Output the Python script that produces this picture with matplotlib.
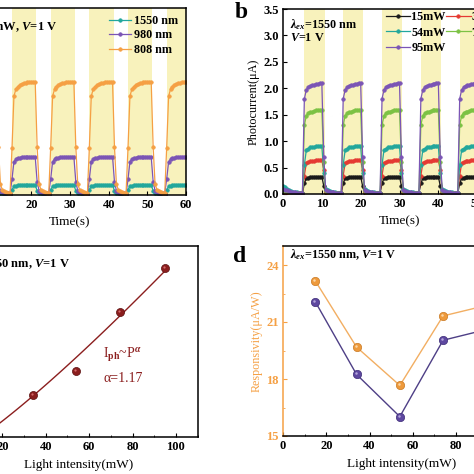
import numpy as np
import matplotlib
matplotlib.use('Agg')
import matplotlib.pyplot as plt
from matplotlib.ticker import MultipleLocator

plt.rcParams['font.family'] = 'Liberation Serif'
plt.rcParams['font.weight'] = 'bold'
plt.rcParams['mathtext.fontset'] = 'custom'
plt.rcParams['mathtext.rm'] = 'Liberation Serif:bold'
plt.rcParams['mathtext.it'] = 'Liberation Serif:italic:bold'
plt.rcParams['mathtext.bf'] = 'Liberation Serif:bold'
plt.rcParams['xtick.direction'] = 'in'
plt.rcParams['ytick.direction'] = 'in'
plt.rcParams['axes.linewidth'] = 1.1

W = H = 474.0

# ---------------- data ----------------
# (a) one 10 s period, every 0.5 s, starting at t = 2 s (light on ~5.0-11.3 s)
a_1550 = [0.04, 0.03, 0.02, 0.02, 0.02, 0.02, 0.10, 0.16, 0.17, 0.18, 0.18, 0.18,
          0.19, 0.19, 0.19, 0.19, 0.19, 0.19, 0.19, 0.08]
a_980 = [0.08, 0.05, 0.04, 0.03, 0.03, 0.02, 0.30, 0.62, 0.67, 0.69, 0.70, 0.71,
         0.71, 0.72, 0.72, 0.72, 0.72, 0.72, 0.72, 0.25]
a_808 = [0.20, 0.10, 0.07, 0.05, 0.04, 0.03, 0.88, 1.85, 1.98, 2.03, 2.06, 2.08,
         2.09, 2.10, 2.11, 2.11, 2.12, 2.12, 2.12, 0.90]
a_light = (5.0, 11.3)

# (b) values at t = 0, 0.5 s, then one 10 s period every 0.5 s from t = 1 s (light on ~5.5-10.7 s)
b_15_lead, b_15 = [0.03, 0.03], [0.02, 0.02, 0.02, 0.01, 0.01, 0.01, 0.01, 0.01, 0.01, 0.20,
                                 0.30, 0.31, 0.32, 0.32, 0.33, 0.33, 0.33, 0.33, 0.33, 0.15]
b_34_lead, b_34 = [0.04, 0.03], [0.03, 0.02, 0.02, 0.02, 0.01, 0.01, 0.01, 0.01, 0.01, 0.35,
                                 0.58, 0.61, 0.62, 0.63, 0.63, 0.64, 0.64, 0.64, 0.64, 0.45]
b_54_lead, b_54 = [0.15, 0.13], [0.10, 0.07, 0.05, 0.04, 0.03, 0.03, 0.02, 0.02, 0.02, 0.55,
                                 0.83, 0.86, 0.88, 0.89, 0.89, 0.90, 0.90, 0.91, 0.91, 0.40]
b_74_lead, b_74 = [0.06, 0.05], [0.05, 0.03, 0.02, 0.02, 0.01, 0.01, 0.01, 0.01, 0.01, 1.30,
                                 1.48, 1.53, 1.55, 1.56, 1.57, 1.58, 1.58, 1.59, 1.59, 0.60]
b_95_lead, b_95 = [0.09, 0.08], [0.08, 0.05, 0.04, 0.03, 0.03, 0.02, 0.02, 0.02, 0.02, 1.80,
                                 1.97, 2.02, 2.05, 2.06, 2.07, 2.08, 2.09, 2.10, 2.10, 0.70]
b_light = (5.5, 10.7)

# (c) photocurrent vs power
c_power = [15, 34, 54, 74, 95]
c_current = [0.33, 0.64, 0.91, 1.60, 2.10]
c_alpha = 1.17

# (d) responsivity vs power
d_power = [15, 34, 54, 74, 95]
d_orange = [23.15, 19.68, 17.66, 21.32, 21.90]
d_purple = [22.05, 18.24, 16.02, 20.04, 20.63]

# colours
teal = '#22A79C'
purple = '#7B55B5'
orange = '#F5A044'
black = '#1A1A1A'
red = '#E53A33'
green = '#7CC244'
yellow = '#F8F2BC'
darkred = '#8B1E1E'


def trace(period, t_first, lead=()):
    tt = [0.5 * i for i in range(len(lead))]
    yy = list(lead)
    for k in range(6):
        for j, v in enumerate(period):
            tt.append(t_first + 10 * k + 0.5 * j)
            yy.append(v)
    return tt, yy


def px_axes(l, t, r, b):
    return fig.add_axes([l / W, 1 - b / H, (r - l) / W, (b - t) / H])


fig = plt.figure(figsize=(4.74, 4.74), dpi=100)

# ---------------- (a) ----------------
ax = px_axes(-46, 8, 186, 195)
for k in range(6):
    ax.axvspan(a_light[0] + 10 * k, a_light[1] + 10 * k, color=yellow, lw=0, zorder=0)
handles = []
for vals, col, lab in [(a_1550, teal, '1550 nm'), (a_980, purple, '980 nm'), (a_808, orange, '808 nm')]:
    tt, yy = trace(vals, 2.0)
    h, = ax.plot(tt, yy, '-o', color=col, lw=0.9, ms=2.6, mfc=col, mec=col, mew=0.4, label=lab)
    handles.append(h)
ax.set_xlim(0, 60)
ax.set_ylim(0, 3.5)
ax.xaxis.set_major_locator(MultipleLocator(10))
ax.xaxis.set_minor_locator(MultipleLocator(5))
ax.tick_params(labelsize=9, length=3, pad=3)
ax.tick_params(which='minor', length=1.5)
ax.set_xlabel('Time(s)', fontsize=9.5, labelpad=4)
ax.legend(handles=handles, loc='upper left', bbox_to_anchor=(109 / W, 1 - 15 / H),
          bbox_transform=fig.transFigure, frameon=False, borderpad=0, borderaxespad=0,
          handlelength=1.8, handletextpad=0.3, labelspacing=0.2, fontsize=8.7)
fig.text(57 / W, 1 - 27 / H, r'P=95 mW, $V$=1 V', ha='right', va='center', fontsize=9)

# ---------------- (b) ----------------
ax = px_axes(283, 9, 516, 194)
for k in range(6):
    ax.axvspan(b_light[0] + 10 * k, b_light[1] + 10 * k, color=yellow, lw=0, zorder=0)
hb = {}
for lead, vals, col, lab in [(b_15_lead, b_15, black, '15mW'), (b_34_lead, b_34, red, '34mW'),
                             (b_54_lead, b_54, teal, '54mW'), (b_74_lead, b_74, green, '74mW'),
                             (b_95_lead, b_95, purple, '95mW')]:
    tt, yy = trace(vals, 1.0, lead)
    h, = ax.plot(tt, yy, '-o', color=col, lw=0.9, ms=2.6, mfc=col, mec=col, mew=0.4, label=lab)
    hb[lab] = h
ax.set_xlim(0, 60)
ax.set_ylim(0, 3.5)
ax.xaxis.set_major_locator(MultipleLocator(10))
ax.xaxis.set_minor_locator(MultipleLocator(5))
ax.yaxis.set_major_locator(MultipleLocator(0.5))
ax.yaxis.set_major_formatter('{x:.1f}')
ax.tick_params(labelsize=9, length=3, pad=3)
ax.tick_params(which='minor', length=1.5)
ax.set_xlabel('Time(s)', fontsize=9.5, labelpad=4)
ax.set_ylabel('Photocurrent(μA)', fontsize=8.7, labelpad=3)
ax.legend(handles=[hb['15mW'], hb['54mW'], hb['95mW'], hb['34mW'], hb['74mW']], ncol=2,
          loc='upper left', bbox_to_anchor=(386 / W, 1 - 11 / H), bbox_transform=fig.transFigure,
          frameon=False, borderpad=0, borderaxespad=0, handlelength=2.0, handletextpad=0.1,
          labelspacing=0.3, columnspacing=0.05, fontsize=8.7)
ax.text(0.03, 0.915, r'$\lambda_{ex}$=1550 nm', transform=ax.transAxes, fontsize=8.7, va='center')
ax.text(0.03, 0.845, r'$V$=1 V', transform=ax.transAxes, fontsize=8.7, va='center')
fig.text(235 / W, 1 - 18 / H, 'b', fontsize=17, ha='left', va='baseline')

# ---------------- (c) ----------------
ax = px_axes(-41, 246, 197.6, 437)
p = np.array(c_power, dtype=float)
i_ph = np.array(c_current)
k_fit = np.sum(i_ph * p ** c_alpha) / np.sum(p ** (2 * c_alpha))
p_fit = np.linspace(p.min(), p.max(), 100)
ax.plot(p_fit, k_fit * p_fit ** c_alpha, color=darkred, lw=1.0)
ax.plot(p, i_ph, 'o', color=darkred, ms=5.8, mec='#5A0E0E', mew=0.5)
off = matplotlib.transforms.ScaledTranslation(-1 / 100, 1 / 100, fig.dpi_scale_trans)
ax.plot(p, i_ph, 'o', color='#D46A6A', ms=1.6, mew=0, transform=ax.transData + off)
ax.set_xlim(0, 110)
ax.set_ylim(0.15, 2.36)
ax.xaxis.set_major_locator(MultipleLocator(20))
ax.xaxis.set_minor_locator(MultipleLocator(10))
ax.tick_params(labelsize=9, length=3, pad=3)
ax.tick_params(which='minor', length=1.5)
ax.set_xlabel('Light intensity(mW)', fontsize=9.5, labelpad=4)
ax.text(103 / W, 1 - 355 / H, r'I$_{\rm ph}$~P$^{\alpha}$', transform=fig.transFigure,
        color=darkred, fontsize=10, fontweight='normal', va='center')
ax.text(103 / W, 1 - 379 / H, 'α=1.17', transform=fig.transFigure,
        color=darkred, fontsize=10, fontweight='normal', va='center')
fig.text(70 / W, 1 - 264 / H, r'$\lambda_{ex}$=1550 nm, $V$=1 V', ha='right', va='center', fontsize=9)

# ---------------- (d) ----------------
ax = px_axes(283, 246, 521, 436)
ax.plot(d_power, d_orange, '-', color='#F2AE62', lw=1.0)
ax.plot(d_power, d_purple, '-', color='#4E3F86', lw=1.0)
ax.plot(d_power, d_orange, 'o', color='#EE9A3C', ms=6, mec='#C97A25', mew=0.5)
ax.plot(d_power, d_purple, 'o', color='#5E48A0', ms=6, mec='#3E2D78', mew=0.5)
ax.plot(d_power, d_orange, 'o', color='#FBD7A8', ms=1.8, mew=0, transform=ax.transData + off)
ax.plot(d_power, d_purple, 'o', color='#B3A4DA', ms=1.8, mew=0, transform=ax.transData + off)
ax.set_xlim(0, 110)
ax.set_ylim(15, 25)
ax.xaxis.set_major_locator(MultipleLocator(20))
ax.xaxis.set_minor_locator(MultipleLocator(10))
ax.yaxis.set_major_locator(MultipleLocator(3))
ax.yaxis.set_minor_locator(MultipleLocator(1.5))
ax.tick_params(labelsize=9, length=3, pad=3)
ax.tick_params(which='minor', length=1.5)
ax.tick_params(axis='y', which='both', colors=orange)
ax.spines['left'].set_color(orange)
ax.set_xlabel('Light intensity(mW)', fontsize=9.5, labelpad=4)
ax.set_ylabel('Responsivity(μA/W)', fontsize=8.7, color=orange, labelpad=3)
ax.text(0.03, 0.955, r'$\lambda_{ex}$=1550 nm, $V$=1 V', transform=ax.transAxes, fontsize=8.7, va='center')
fig.text(233 / W, 1 - 262 / H, 'd', fontsize=17, ha='left', va='baseline')

fig.savefig('out.png', dpi=100)
